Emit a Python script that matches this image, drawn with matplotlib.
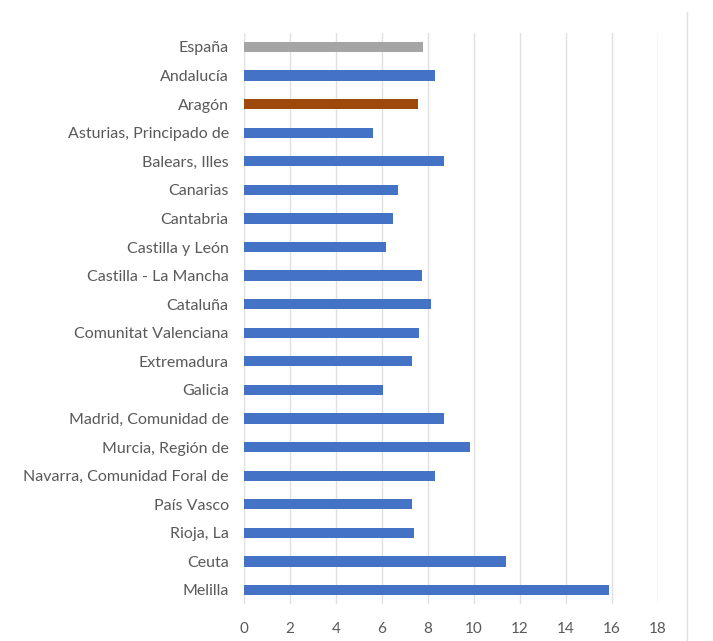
import matplotlib

matplotlib.use("Agg")
import matplotlib.pyplot as plt
from matplotlib.lines import Line2D

regions = [
    "España", "Andalucía", "Aragón", "Asturias, Principado de", "Balears, Illes",
    "Canarias", "Cantabria", "Castilla y León", "Castilla - La Mancha", "Cataluña",
    "Comunitat Valenciana", "Extremadura", "Galicia", "Madrid, Comunidad de",
    "Murcia, Región de", "Navarra, Comunidad Foral de", "País Vasco", "Rioja, La",
    "Ceuta", "Melilla",
]
values = [
    7.8, 8.3, 7.55, 5.6, 8.7,
    6.7, 6.5, 6.2, 7.75, 8.15,
    7.6, 7.3, 6.05, 8.7,
    9.85, 8.3, 7.3, 7.4,
    11.4, 15.9,
]
x_ticks = [0, 2, 4, 6, 8, 10, 12, 14, 16, 18]

BLUE = "#4472C4"
GREY = "#A5A5A5"
RUST = "#9E480E"
colors = [GREY if r == "España" else RUST if r == "Aragón" else BLUE for r in regions]

plt.rcParams["font.family"] = ["Lato", "DejaVu Sans"]

fig = plt.figure(figsize=(7.13, 6.41), dpi=100)
ax = fig.add_axes([0.3422, 0.0573, 0.5802, 0.8917])

positions = list(range(len(regions)))
ax.barh(positions, values, height=0.36, color=colors, zorder=3)
ax.set_ylim(len(regions) - 0.5, -0.5)
ax.set_xlim(0, 18)
ax.set_xticks(x_ticks)
ax.set_yticks(positions)
ax.set_yticklabels(regions)
ax.grid(axis="x", color="#E0E0E0", linewidth=1.0, zorder=0)
for side in ["top", "right", "bottom", "left"]:
    ax.spines[side].set_visible(False)
ax.tick_params(axis="both", length=0, labelcolor="#595959")
ax.tick_params(axis="x", pad=13, labelsize=11)
ax.tick_params(axis="y", pad=11, labelsize=11.5)

fig.add_artist(Line2D([686.7 / 713, 686.7 / 713], [0, 1 - 12 / 641],
                      transform=fig.transFigure, color="#E0E0E0", linewidth=1.0))

fig.savefig("out.png", dpi=100)
plt.close(fig)
